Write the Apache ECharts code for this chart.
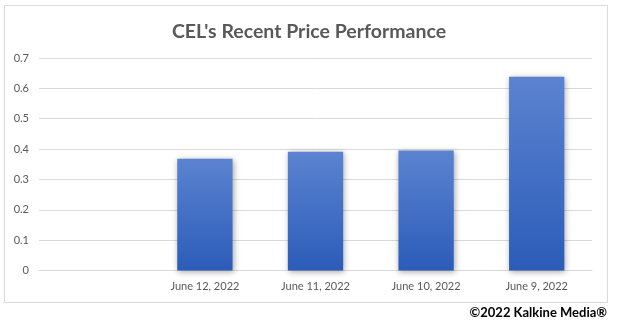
<!DOCTYPE html>
<html>
<head>
<meta charset="utf-8">
<script src="https://cdn.jsdelivr.net/npm/echarts@6/dist/echarts.min.js"></script>
<style>html,body{margin:0;padding:0;background:#fff;}#c{width:618px;height:328px;}</style>
</head>
<body>
<div id="c"></div>
<script>
const titleText = "CEL's Recent Price Performance";
const categories = ["", "June 12, 2022", "June 11, 2022", "June 10, 2022", "June 9, 2022"];
const prices = [null, 0.368, 0.391, 0.395, 0.638];
const yTicks = { min: 0, max: 0.7, interval: 0.1 };
const creditText = "©2022 Kalkine Media®";

const chart = echarts.init(document.getElementById('c'), null, { renderer: 'canvas' });
chart.setOption({
  backgroundColor: '#ffffff',
  animation: false,
  title: {
    text: titleText,
    left: 'center',
    top: 17,
    textStyle: { fontFamily: 'Lato', fontWeight: 'bold', fontSize: 19.5, color: '#595959' }
  },
  graphic: [
    { type: 'rect', shape: { x: 4.5, y: 5.5, width: 603, height: 297 },
      style: { fill: 'none', stroke: '#d9d9d9', lineWidth: 1 }, silent: true },
    { type: 'text', right: 11, top: 306,
      style: { text: creditText, font: 'bold 13px Lato', fill: '#000000' } }
  ],
  grid: { left: 39, right: 26, top: 58, bottom: 57.5, containLabel: false },
  xAxis: {
    type: 'category',
    data: categories,
    axisTick: { show: false },
    axisLine: { lineStyle: { color: '#d9d9d9', width: 1 } },
    axisLabel: { color: '#595959', fontFamily: 'Lato', fontSize: 11, margin: 10 }
  },
  yAxis: {
    type: 'value',
    min: yTicks.min, max: yTicks.max, interval: yTicks.interval,
    axisLine: { show: false },
    axisTick: { show: false },
    splitLine: { lineStyle: { color: '#d9d9d9', width: 1 } },
    axisLabel: { color: '#595959', fontFamily: 'Lato', fontSize: 11, margin: 10 }
  },
  series: [{
    type: 'bar',
    data: prices,
    barWidth: '50%',
    itemStyle: {
      color: new echarts.graphic.LinearGradient(0, 0, 0, 1, [
        { offset: 0, color: '#5b83d0' },
        { offset: 1, color: '#2c5cb9' }
      ]),
      shadowBlur: 6,
      shadowColor: 'rgba(0,0,0,0.35)',
      shadowOffsetX: 1,
      shadowOffsetY: 1
    }
  }]
});
</script>
</body>
</html>
